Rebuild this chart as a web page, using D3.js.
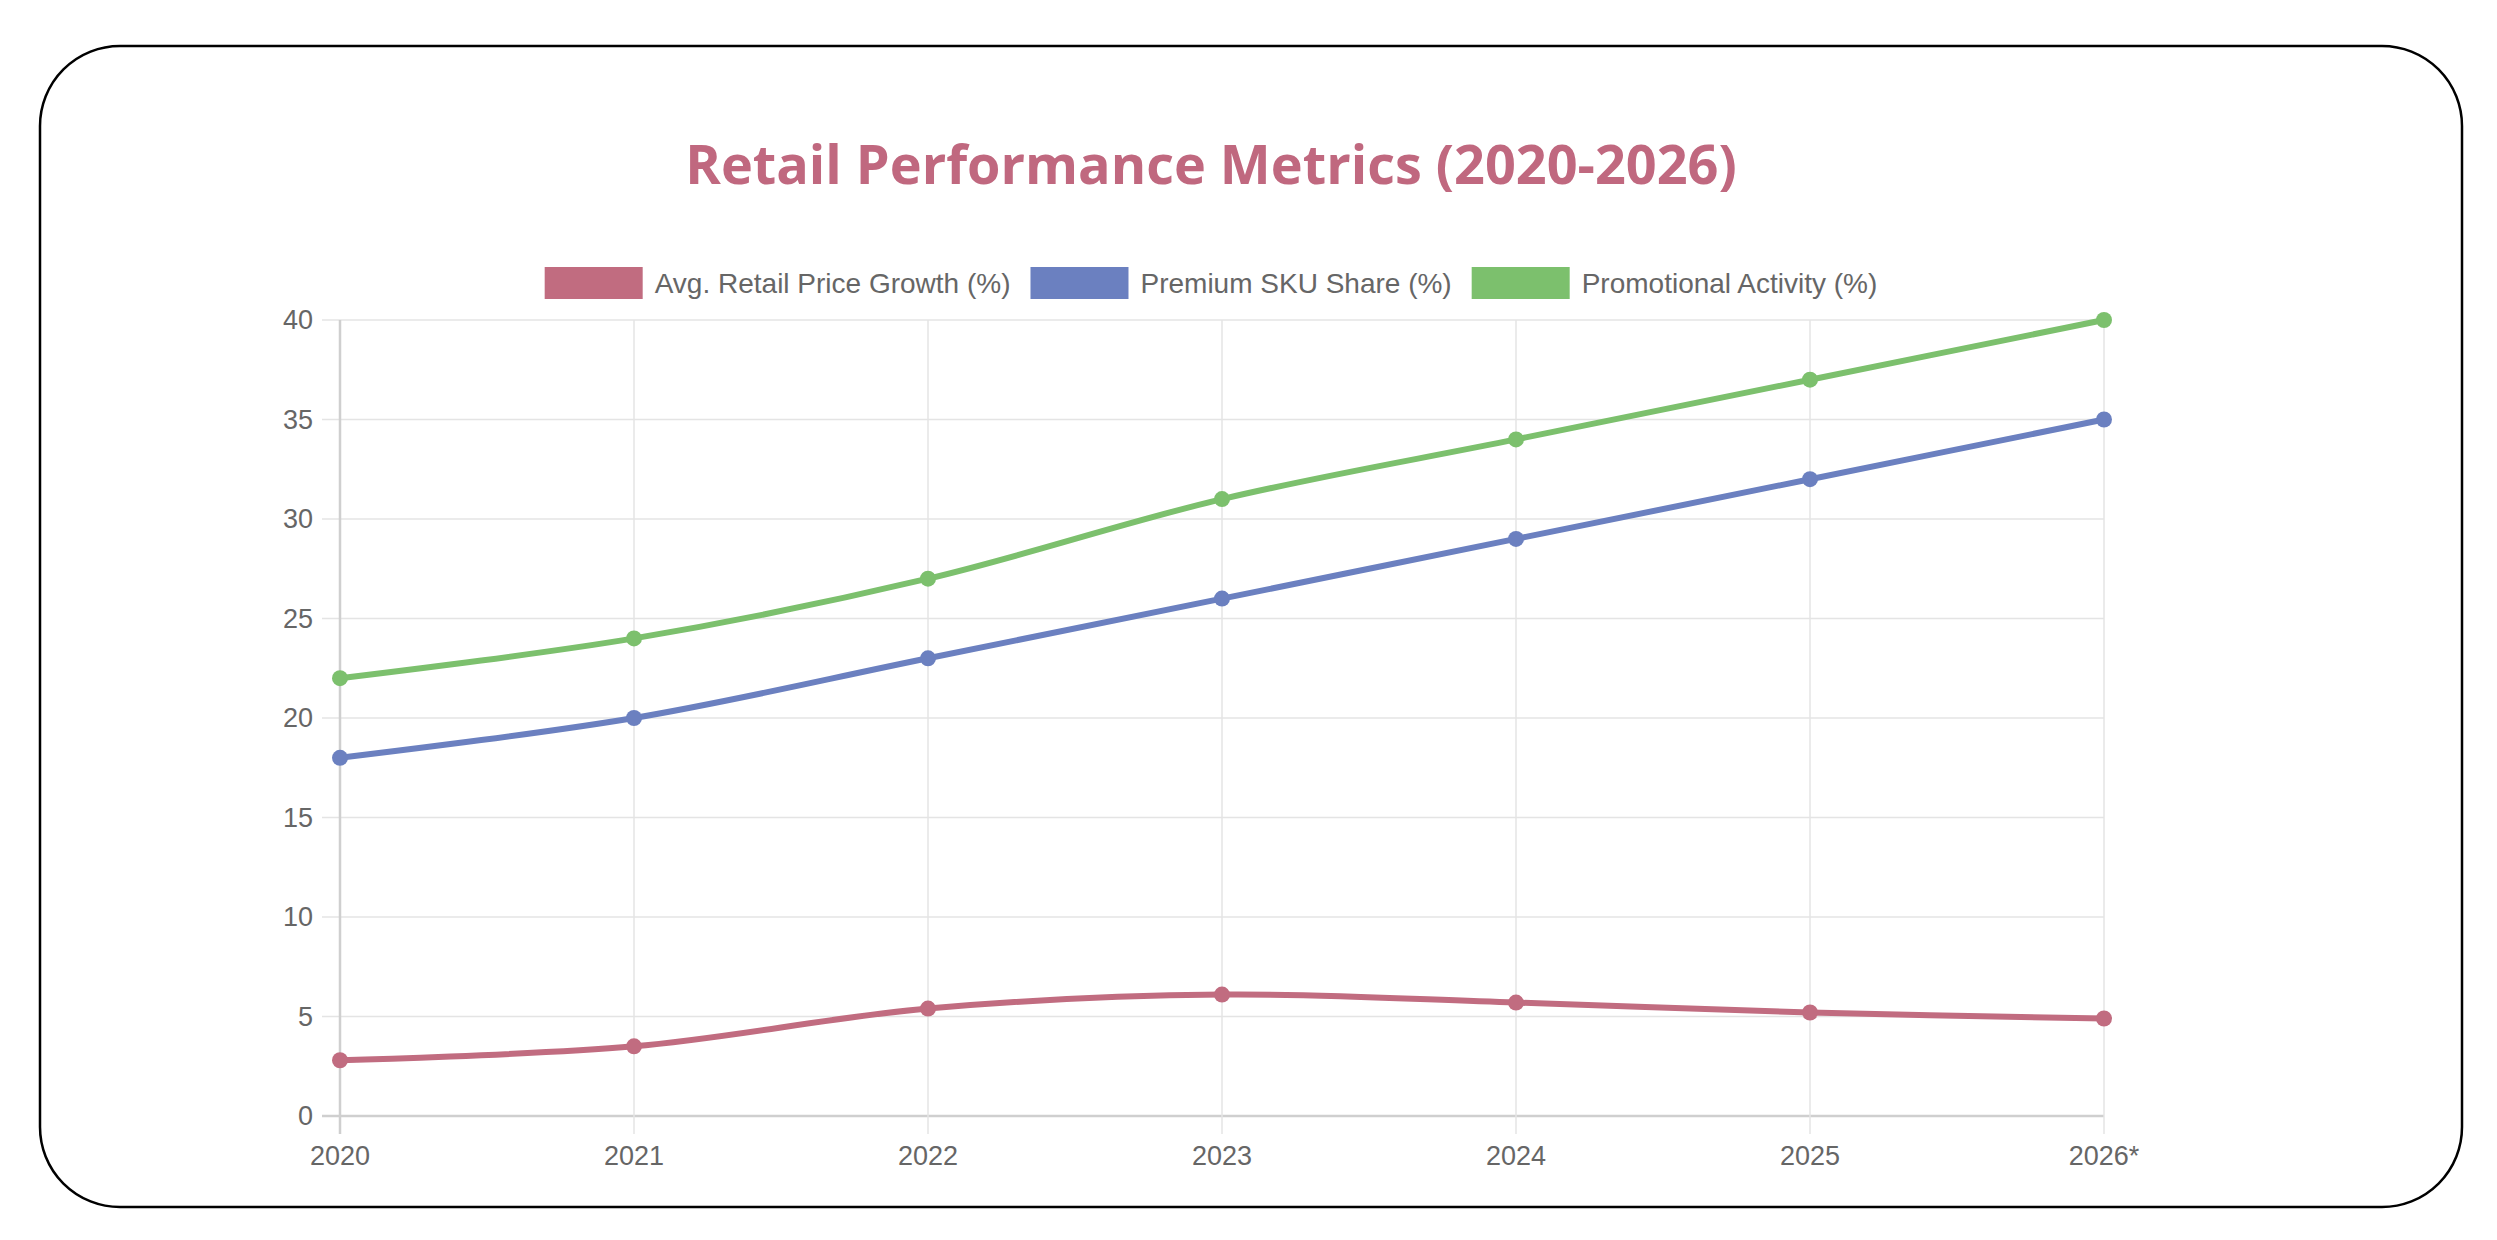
<!DOCTYPE html>
<html>
<head>
<meta charset="utf-8">
<script src="https://cdn.jsdelivr.net/npm/d3@7"></script>
<style>
  html, body { margin: 0; padding: 0; background: #fff; }
  svg { display: block; }
</style>
</head>
<body>
<div id="chart"></div>
<script>
const years = ["2020", "2021", "2022", "2023", "2024", "2025", "2026*"];
const priceGrowth = [2.8, 3.5, 5.4, 6.1, 5.7, 5.2, 4.9];
const premiumShare = [18, 20, 23, 26, 29, 32, 35];
const promoActivity = [22, 24, 27, 31, 34, 37, 40];
const yTicks = [0, 5, 10, 15, 20, 25, 30, 35, 40];
const seriesNames = ["Avg. Retail Price Growth (%)", "Premium SKU Share (%)", "Promotional Activity (%)"];
const seriesColors = ["#c16c80", "#6b80c0", "#7cc06d"];

const W = 2497, H = 1240;
const plot = { left: 340, right: 2104, top: 320, bottom: 1116 };
const tickFont = "'Liberation Sans', Arial, sans-serif";

const svg = d3.select("#chart").append("svg")
  .attr("width", W)
  .attr("height", H);

// card border
svg.append("rect")
  .attr("x", 40).attr("y", 46)
  .attr("width", 2422).attr("height", 1161)
  .attr("rx", 80).attr("ry", 80)
  .style("fill", "#fff")
  .style("stroke", "#000")
  .style("stroke-width", 2.5);

const x = d3.scalePoint()
  .domain(years)
  .range([plot.left, plot.right]);

const y = d3.scaleLinear()
  .domain([0, 40])
  .range([plot.bottom, plot.top]);

// grid
const grid = svg.append("g").attr("class", "grid");

grid.selectAll(".hgrid")
  .data(yTicks)
  .enter().append("line")
  .attr("x1", plot.left - 18)
  .attr("x2", plot.right)
  .attr("y1", (d) => y(d))
  .attr("y2", (d) => y(d))
  .style("stroke", (d) => d === 0 ? "#cfcfcf" : "#e4e4e4")
  .style("stroke-width", (d) => d === 0 ? 2.5 : 1.5);

grid.selectAll(".vgrid")
  .data(years)
  .enter().append("line")
  .attr("x1", (d) => x(d))
  .attr("x2", (d) => x(d))
  .attr("y1", plot.top)
  .attr("y2", plot.bottom + 18)
  .style("stroke", (d, i) => i === 0 ? "#cfcfcf" : "#e4e4e4")
  .style("stroke-width", (d, i) => i === 0 ? 2.5 : 1.5);

// y tick labels
svg.append("g")
  .selectAll("text")
  .data(yTicks)
  .enter().append("text")
  .attr("x", plot.left - 27)
  .attr("y", (d) => y(d))
  .attr("dy", "0.35em")
  .attr("text-anchor", "end")
  .style("font-family", tickFont)
  .style("font-size", "27px")
  .style("fill", "#666")
  .text((d) => d);

// x tick labels
svg.append("g")
  .selectAll("text")
  .data(years)
  .enter().append("text")
  .attr("x", (d) => x(d))
  .attr("y", 1165)
  .attr("text-anchor", "middle")
  .style("font-family", tickFont)
  .style("font-size", "27px")
  .style("fill", "#666")
  .text((d) => d);

// lines
const allSeries = [priceGrowth, premiumShare, promoActivity];

const line = d3.line()
  .x((d, i) => x(years[i]))
  .y((d) => y(d))
  .curve(d3.curveCatmullRom.alpha(0.5));

const seriesG = svg.selectAll(".series")
  .data(allSeries)
  .enter().append("g")
  .attr("class", "series");

seriesG.append("path")
  .attr("d", (d) => line(d))
  .style("fill", "none")
  .style("stroke", (d, i) => seriesColors[i])
  .style("stroke-width", 6);

seriesG.each(function (d, si) {
  d3.select(this).selectAll("circle")
    .data(d)
    .enter().append("circle")
    .attr("cx", (v, i) => x(years[i]))
    .attr("cy", (v) => y(v))
    .attr("r", 8)
    .style("fill", seriesColors[si]);
});

// title
svg.append("text")
  .attr("x", 1211)
  .attr("y", 184)
  .attr("text-anchor", "middle")
  .style("font-family", "'Open Sans', sans-serif")
  .style("font-weight", "bold")
  .style("font-size", "54px")
  .style("fill", "#c0687f")
  .text("Retail Performance Metrics (2020-2026)");

// legend
const legend = svg.append("g").attr("class", "legend");
const boxW = 98, boxH = 32, gapText = 12, gapItem = 20, legendY = 283;

const items = legend.selectAll("g")
  .data(seriesNames)
  .enter().append("g");

items.append("rect")
  .attr("width", boxW)
  .attr("height", boxH)
  .attr("y", legendY - boxH / 2)
  .style("fill", (d, i) => seriesColors[i]);

items.append("text")
  .attr("x", boxW + gapText)
  .attr("y", legendY)
  .attr("dy", "0.35em")
  .style("font-family", tickFont)
  .style("font-size", "28px")
  .style("fill", "#666")
  .text((d) => d);

// lay the legend items out in a row, centered
let offsets = [], cursor = 0;
items.each(function () {
  offsets.push(cursor);
  cursor += boxW + gapText + d3.select(this).select("text").node().getComputedTextLength() + gapItem;
});
const totalW = cursor - gapItem;
items.attr("transform", (d, i) => `translate(${1211 - totalW / 2 + offsets[i]},0)`);
</script>
</body>
</html>
